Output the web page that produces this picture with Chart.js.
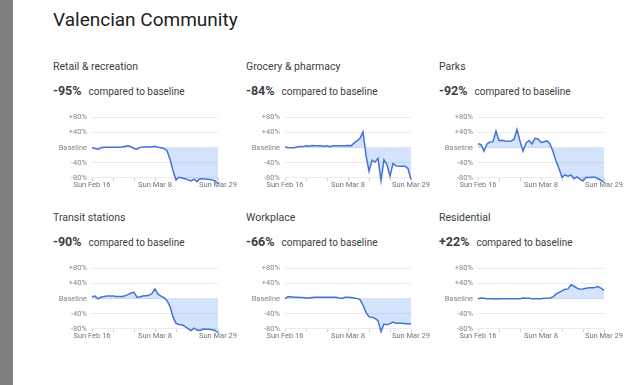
<!DOCTYPE html>
<html lang="en">

<head>
  <meta charset="UTF-8" />
  <title>Valencian Community</title>
  <script src="https://cdn.jsdelivr.net/npm/chart.js@4.4.0/dist/chart.umd.min.js"></script>
  <style>
    body {
      margin: 0;
      width: 624px;
      height: 385px;
      background: #fff;
      position: relative;
      overflow: hidden;
      font-family: Roboto, "Noto Sans", sans-serif;
    }
    .bar { position: absolute; left: 0; top: 0; width: 13px; height: 385px; background: #7d7d7d; }
    h1 { position: absolute; left: 53px; top: 8px; margin: 0; font-size: 19px; font-weight: 400; color: #202124; line-height: 24px; white-space: nowrap; }
    .name { position: absolute; font-size: 10.5px; color: #3c4043; line-height: 14px; white-space: nowrap; }
    .value { position: absolute; font-size: 10px; color: #3c4043; line-height: 16px; white-space: nowrap; }
    .value b { font-size: 12.5px; font-weight: 700; margin-right: 7px; }
    canvas { position: absolute; }
  </style>
</head>

<body>
  <div class="bar"></div>
  <h1>Valencian Community</h1>

  <script>
    // one entry per day, Sun Feb 16 .. Sun Mar 29
    const dates = [
      "Feb 16", "Feb 17", "Feb 18", "Feb 19", "Feb 20", "Feb 21", "Feb 22",
      "Feb 23", "Feb 24", "Feb 25", "Feb 26", "Feb 27", "Feb 28", "Feb 29",
      "Mar 1", "Mar 2", "Mar 3", "Mar 4", "Mar 5", "Mar 6", "Mar 7",
      "Mar 8", "Mar 9", "Mar 10", "Mar 11", "Mar 12", "Mar 13", "Mar 14",
      "Mar 15", "Mar 16", "Mar 17", "Mar 18", "Mar 19", "Mar 20", "Mar 21",
      "Mar 22", "Mar 23", "Mar 24", "Mar 25", "Mar 26", "Mar 27", "Mar 28",
      "Mar 29",
    ];
    const xTickLabels = { "Feb 16": "Sun Feb 16", "Mar 8": "Sun Mar 8", "Mar 29": "Sun Mar 29" };
    const weekTicks = ["Feb 16", "Feb 23", "Mar 1", "Mar 8", "Mar 15", "Mar 22", "Mar 29"];
    const yTicks = [-80, -40, 0, 40, 80];
    const yTickLabels = ["-80%", "-40%", "Baseline", "+40%", "+80%"];

    const names = ["Retail & recreation", "Grocery & pharmacy", "Parks",
      "Transit stations", "Workplace", "Residential"];

    const retail = [0, -2, -4, 0, 1, 1, 1, 1, 1, 1, 2, 4, 5, 3, -2, -4, 1, 2, 2, 2, 2, 4,
      1, 0, -2, -8, -30, -60, -85, -78, -80, -82, -85, -88, -83, -90, -82, -83, -83, -84, -85, -88, -95];
    const grocery = [2, 0, 0, 0, 2, 3, 3, 5, 4, 6, 5, 5, 5, 4, 5, 3, 5, 5, 5, 5, 5, 6,
      5, 12, 18, 25, 42, -20, -62, -33, -38, -28, -87, -32, -45, -75, -42, -48, -49, -49, -49, -55, -84];
    const parks = [11, 8, -9, 10, 15, 16, 44, 19, 20, 18, 17, 18, 22, 48, 18, -9, 12, 19, 10, 25, 23, 14,
      16, 18, 10, -10, -35, -55, -78, -72, -75, -72, -82, -77, -83, -88, -78, -79, -78, -78, -82, -86, -92];
    const transit = [5, 7, 0, 4, 6, 7, 7, 7, 6, 6, 6, 8, 11, 15, 17, 4, 5, 7, 8, 9, 14, 26,
      12, 7, 3, -5, -20, -48, -65, -68, -69, -74, -79, -84, -78, -83, -84, -80, -81, -81, -82, -84, -90];
    const workplace = [0, 5, 5, 4, 4, 3, 3, 2, 2, 3, 4, 4, 4, 4, 4, 4, 4, 4, 2, 1, 4, 4,
      3, 2, 1, -2, -17, -36, -48, -49, -52, -58, -87, -67, -69, -66, -62, -65, -65, -65, -66, -66, -66];
    const residential = [0, 2, 1, 0, 0, 0, -1, 0, 0, 0, 0, 0, 0, 0, 0, 2, 1, 1, 0, 0, 0, 0,
      1, 1, 2, 5, 12, 17, 21, 25, 26, 37, 33, 28, 25, 26, 28, 29, 29, 30, 32, 28, 22];

    const series = [retail, grocery, parks, transit, workplace, residential];

    const colLeft = [53, 246, 439];
    const rowTop = [60, 211];
    const tickFont = { family: "Roboto", size: 7.5 };

    // small weekly marks under the -80% line
    const weekMarks = {
      id: "weekMarks",
      beforeDatasetsDraw(chart) {
        const { ctx, scales: { x, y } } = chart;
        const y0 = y.getPixelForValue(-80);
        ctx.save();
        ctx.strokeStyle = "#cfcfcf";
        ctx.lineWidth = 1;
        weekTicks.forEach((d) => {
          const px = Math.round(x.getPixelForValue(dates.indexOf(d))) + 0.5;
          ctx.beginPath();
          ctx.moveTo(px, y0);
          ctx.lineTo(px, y0 + 3);
          ctx.stroke();
        });
        ctx.restore();
      },
    };

    series.forEach((values, i) => {
      const col = i % 3;
      const row = Math.floor(i / 3);
      const left = colLeft[col];
      const top = rowTop[row];

      const name = document.createElement("div");
      name.className = "name";
      name.style.left = left + "px";
      name.style.top = top + "px";
      name.textContent = names[i];
      document.body.appendChild(name);

      const last = values[values.length - 1];
      const value = document.createElement("div");
      value.className = "value";
      value.style.left = left + "px";
      value.style.top = top + 23 + "px";
      value.innerHTML = "<b>" + (last > 0 ? "+" : "") + last + "%</b>compared to baseline";
      document.body.appendChild(value);

      const canvas = document.createElement("canvas");
      canvas.width = 193;
      canvas.height = 85;
      canvas.style.left = left - 8 + "px";
      canvas.style.top = top + 48 + "px";
      document.body.appendChild(canvas);

      new Chart(canvas.getContext("2d"), {
        type: "line",
        data: {
          labels: dates,
          datasets: [
            {
              data: values,
              borderColor: "#4573d5",
              borderWidth: 1.5,
              backgroundColor: "rgba(66, 133, 244, 0.22)",
              fill: "origin",
              pointRadius: 0,
              tension: 0,
              clip: false,
            },
          ],
        },
        options: {
          responsive: false,
          animation: false,
          devicePixelRatio: 1,
          layout: { padding: { top: 7, right: 20, left: 0, bottom: 0 } },
          plugins: { legend: { display: false }, tooltip: { enabled: false } },
          scales: {
            x: {
              grid: { display: false, drawTicks: false },
              border: { display: false },
              ticks: {
                autoSkip: false,
                maxRotation: 0,
                padding: 0,
                font: tickFont,
                color: "#70757a",
                callback: (v, idx) => xTickLabels[dates[idx]] || "",
              },
              afterFit: (s) => { s.height = 12; },
            },
            y: {
              min: -88,
              max: 80,
              afterBuildTicks: (s) => { s.ticks = yTicks.map((v) => ({ value: v })); },
              grid: { color: "#ebebeb", drawTicks: false },
              border: { display: false },
              ticks: {
                padding: 5,
                font: tickFont,
                color: "#80868b",
                callback: (v) => yTickLabels[yTicks.indexOf(v)],
              },
              afterFit: (s) => { s.width = 47; },
            },
          },
        },
        plugins: [weekMarks],
      });
    });
  </script>
</body>

</html>
